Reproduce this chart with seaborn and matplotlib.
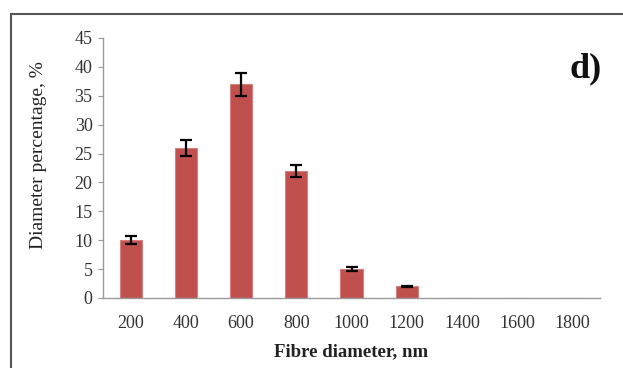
import matplotlib
matplotlib.use("Agg")
import matplotlib.pyplot as plt
import seaborn as sns
import numpy as np
import pandas as pd
from matplotlib.lines import Line2D

categories = ["200", "400", "600", "800", "1000", "1200", "1400", "1600", "1800"]
values = [10, 26, 37, 22, 5, 2, 0, 0, 0]
errors = [0.65, 1.4, 2.0, 1.1, 0.3, 0.15, 0, 0, 0]
yticks = [0, 5, 10, 15, 20, 25, 30, 35, 40, 45]

sns.set_theme(style="white")
plt.rcParams["font.family"] = ["Liberation Serif", "DejaVu Serif"]

fig = plt.figure(figsize=(6.23, 3.68), dpi=100)
ax = fig.add_axes([103/623, 1-298/368, 497/623, 260/368])

df = pd.DataFrame({"d": categories, "v": values})
sns.barplot(data=df, x="d", y="v", order=categories, color="#C0504D",
            saturation=1, width=0.4, ax=ax, errorbar=None,
            edgecolor="#D4817F", linewidth=0.8)

pos = np.arange(len(categories))
mask = np.array(values) > 0
ax.errorbar(pos[mask], np.array(values)[mask], yerr=np.array(errors)[mask],
            fmt="none", ecolor="black", elinewidth=1.6, capsize=4, capthick=1.6)

ax.set_ylim(0, 45)
ax.set_xlim(-0.5, len(categories) - 0.5)
ax.set_yticks(yticks)
ax.set_yticklabels([str(t) for t in yticks], fontsize=13, color="#333333")
ax.tick_params(axis="x", labelsize=13, labelcolor="#333333", length=0, pad=12)
ax.tick_params(axis="y", length=3.5, width=0.8, color="#999999", direction="out", pad=4, left=True)

for s in ["top", "right"]:
    ax.spines[s].set_visible(False)
for s in ["left", "bottom"]:
    ax.spines[s].set_color("#9a9a9a")
    ax.spines[s].set_linewidth(1.0)

ax.set_xlabel("Fibre diameter, nm", fontsize=13.5, fontweight="bold", color="#222222", labelpad=8)
ax.set_ylabel("Diameter percentage, %", fontsize=14, color="#222222")
ax.yaxis.set_label_coords(-0.113, 0.55)

fig.text(586/623, 1-69/368, "d)", fontsize=26, fontweight="bold", ha="center", va="center", color="#111111")

# outer frame (left and top edges visible)
fig.add_artist(Line2D([11/623, 11/623], [0, 1-14/368], transform=fig.transFigure, color="#555555", lw=1.5))
fig.add_artist(Line2D([11/623, 1], [1-14/368, 1-14/368], transform=fig.transFigure, color="#555555", lw=1.5))

fig.savefig("out.png", dpi=100, facecolor="white")
